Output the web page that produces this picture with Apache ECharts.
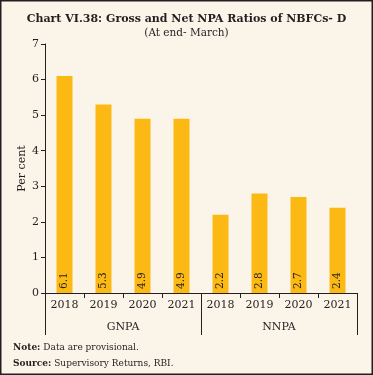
<!DOCTYPE html>
<html>
<head>
<meta charset="utf-8">
<script src="https://cdn.jsdelivr.net/npm/echarts@6/dist/echarts.min.js"></script>
<style>
html,body{margin:0;padding:0;background:#FAF4E9;}
#c{width:373px;height:375px;}
</style>
</head>
<body>
<div id="c"></div>
<script>
var years = ['2018','2019','2020','2021','2018','2019','2020','2021'];
var groups = ['GNPA','NNPA'];
var gnpa = [6.1, 5.3, 4.9, 4.9];
var nnpa = [2.2, 2.8, 2.7, 2.4];
var yTicks = [0,1,2,3,4,5,6,7];

var values = gnpa.concat(nnpa);
var serif = "'DejaVu Serif', serif";
var chart = echarts.init(document.getElementById('c'));
chart.setOption({
  backgroundColor: '#FAF4E9',
  animation: false,
  title: {
    text: 'Chart VI.38: Gross and Net NPA Ratios of NBFCs- D',
    subtext: '(At end- March)',
    left: 'center', top: 9, itemGap: 3,
    textStyle: {fontFamily: serif, fontWeight: 'bold', fontSize: 11, color: '#231F20'},
    subtextStyle: {fontFamily: serif, fontSize: 10.5, color: '#231F20'}
  },
  grid: {left: 45, right: 16, top: 44, bottom: 82, containLabel: false},
  xAxis: [{
    type: 'category', data: years, position: 'bottom',
    axisLine: {lineStyle: {color: '#231F20', width: 1}},
    axisTick: {show: true, length: 5, interval: 0, lineStyle: {color: '#231F20'}},
    axisLabel: {fontFamily: serif, fontSize: 11, color: '#231F20', margin: 7, interval: 0}
  }, {
    type: 'category', data: groups, position: 'bottom', offset: 0,
    axisLine: {show: true, lineStyle: {color: '#231F20', width: 1}},
    axisTick: {show: true, length: 42, interval: 0, lineStyle: {color: '#231F20'}},
    axisLabel: {fontFamily: serif, fontSize: 11, color: '#231F20', margin: 29, interval: 0}
  }],
  yAxis: {
    type: 'value', min: 0, max: 7, interval: 1,
    name: 'Per cent', nameLocation: 'middle', nameGap: 17, nameMoveOverlap: false,
    nameTextStyle: {fontFamily: serif, fontSize: 11, color: '#231F20'},
    axisLine: {show: true, lineStyle: {color: '#231F20'}},
    axisTick: {show: true, length: 4, lineStyle: {color: '#231F20'}},
    axisLabel: {fontFamily: serif, fontSize: 11, color: '#231F20', margin: 6,
      formatter: function(v){ return yTicks.indexOf(v) >= 0 ? String(v) : ''; }},
    splitLine: {show: false}
  },
  series: [{
    type: 'bar', xAxisIndex: 0, data: values, barWidth: 16,
    itemStyle: {color: '#FDB913'},
    label: {show: true, position: 'insideBottom', rotate: 90, align: 'left', verticalAlign: 'middle', distance: 4,
      fontFamily: serif, fontSize: 10.5, color: '#231F20',
      formatter: function(p){ return p.value.toFixed(1); }}
  }],
  graphic: [{
    type: 'rect', shape: {x: 0.75, y: 0.75, width: 371.5, height: 373.5},
    style: {fill: 'none', stroke: '#231F20', lineWidth: 1.5}, silent: true
  }, {
    type: 'text', left: 13, top: 340,
    style: {text: '{b|Note:} Data are provisional.\n{b|Source:} Supervisory Returns, RBI.',
      rich: {b: {fontWeight: 'bold', fontFamily: serif, fontSize: 9, fill: '#231F20'}},
      fontFamily: serif, fontSize: 9, fill: '#231F20', lineHeight: 16}
  }]
});
</script>
</body>
</html>
